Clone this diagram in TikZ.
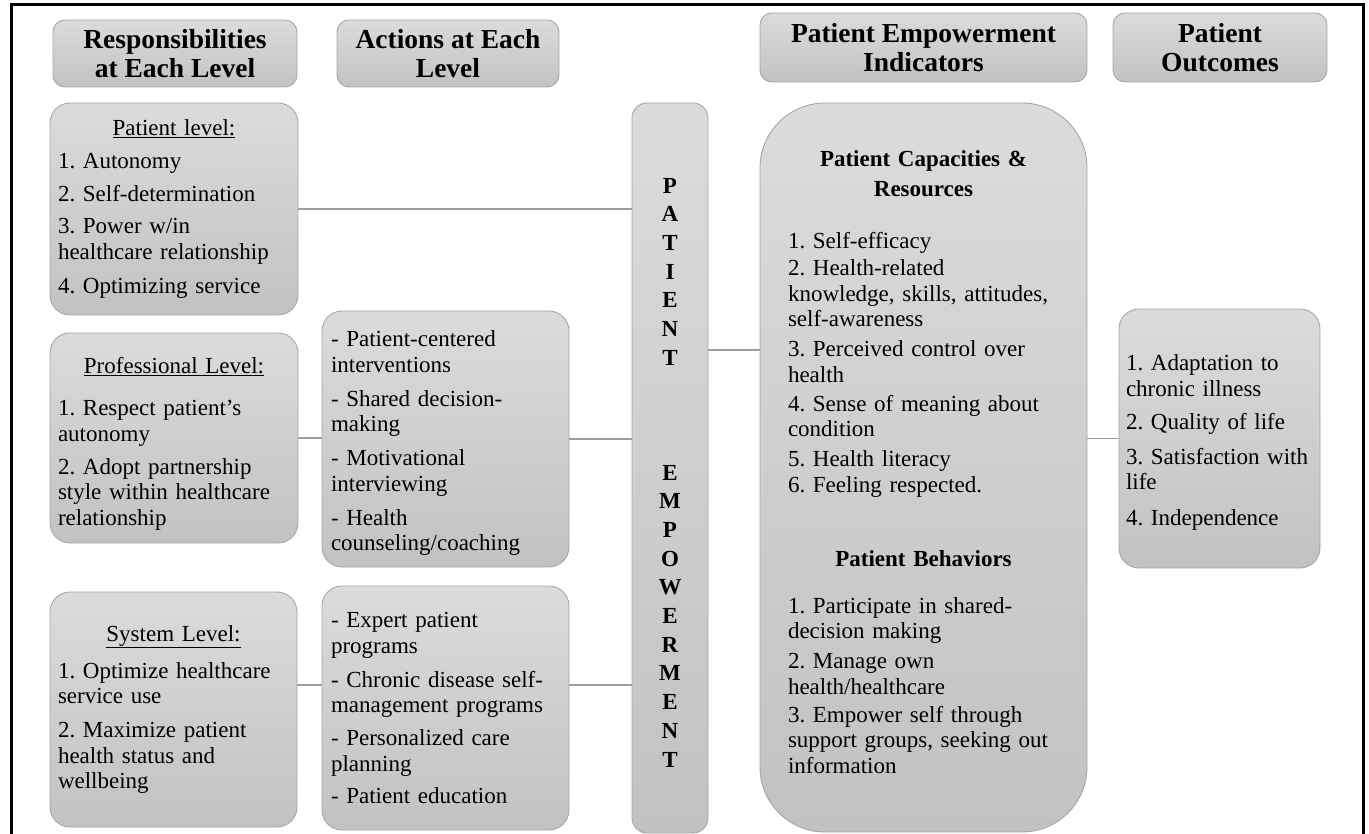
\documentclass[tikz,border=0pt]{standalone}
\usepackage{fontspec}
\setmainfont{Liberation Serif}
\frenchspacing
\newcommand\bodyfont{\fontsize{23}{25.5}\selectfont}
\newcommand\headfont{\fontsize{27.5}{29}\selectfont\bfseries}
\newcommand\colfont{\fontsize{23}{28.7}\selectfont\bfseries}
\begin{document}
\frenchspacing
\begin{tikzpicture}[x=1pt,y=-1pt,
  box/.style={draw=black!35, line width=0.9pt, top color=gray!28, bottom color=gray!48,
              inner ysep=0pt, align=left, font=\bodyfont, text=black},
  headbox/.style={box, rounded corners=12pt, align=center, font=\headfont, inner xsep=0pt},
  conn/.style={draw=black!38, line width=1.3pt}]
\useasboundingbox (0,0) rectangle (1369,834);

% headers
\node[headbox, minimum width=244pt, minimum height=67pt] (h1) at (175,53.5)
  {Responsibilities\\at Each Level};
\node[headbox, minimum width=222pt, minimum height=67pt] (h2) at (448,53.5)
  {Actions at Each\\Level};
\node[headbox, minimum width=327pt, minimum height=69pt] (h3) at (923.5,47.5)
  {Patient Empowerment\\Indicators};
\node[headbox, minimum width=214pt, minimum height=69pt] (h4) at (1220,47.5)
  {Patient\\Outcomes};

% responsibilities
\node[box, rounded corners=20pt, minimum width=248pt, minimum height=212pt,
      text width=232pt, inner xsep=8pt] (pl) at (174,209)
  {\makebox[232pt]{\underline{Patient level:}}\\[7.5pt]
   1. Autonomy\\[7.5pt]
   2. Self-determination\\[6.5pt]
   3. Power w/in\\
   healthcare relationship\\[8.5pt]
   4. Optimizing service};
\node[box, rounded corners=20pt, minimum width=248pt, minimum height=210pt,
      text width=232pt, inner xsep=8pt] (prl) at (174,438)
  {\mbox{}\\[2.5pt]
   \makebox[232pt]{\underline{Professional Level:}}\\[16.5pt]
   1. Respect patient's\\
   autonomy\\[7.5pt]
   2. Adopt partnership\\
   style within healthcare\\
   relationship};
\node[box, rounded corners=20pt, minimum width=247pt, minimum height=235pt,
      text width=231pt, inner xsep=8pt] (sl) at (173.5,709.5)
  {\makebox[231pt]{\underline{System Level:}}\\[11.5pt]
   1. Optimize healthcare\\
   service use\\[8.5pt]
   2. Maximize patient\\
   health status and\\
   wellbeing};

% actions
\node[box, rounded corners=20pt, minimum width=247pt, minimum height=256pt,
      text width=229pt, inner xsep=9pt] (a2) at (445.5,439)
  {\mbox{}\\[-1.5pt]
   - Patient-centered\\
   interventions\\[8.5pt]
   - Shared decision-\\
   making\\[8.5pt]
   - Motivational\\
   interviewing\\[8.5pt]
   - Health\\
   counseling/coaching};
\node[box, rounded corners=20pt, minimum width=247pt, minimum height=244pt,
      text width=229pt, inner xsep=9pt] (a3) at (445.5,708)
  {- Expert patient\\
   programs\\[8.5pt]
   - Chronic disease self-\\
   management programs\\[7.5pt]
   - Personalized care\\
   planning\\[6.5pt]
   - Patient education};

% central column
\node[box, rounded corners=15pt, minimum width=76pt, minimum height=730pt,
      align=center, font=\colfont, inner xsep=0pt] (col) at (670,468)
  {\mbox{}\\[-4.5pt]P\\A\\T\\I\\E\\N\\T\\[86pt]E\\M\\P\\O\\W\\E\\R\\M\\E\\N\\T};

% indicators
\node[box, rounded corners=65pt, minimum width=327pt, minimum height=729pt,
      text width=271pt, inner xsep=28pt] (ind) at (923.5,467.5)
  {\makebox[271pt]{\bfseries Patient Capacities \&}\\[4.5pt]
   \makebox[271pt]{\bfseries Resources}\\[26.5pt]
   1. Self-efficacy\\[1.5pt]
   2. Health-related\\
   knowledge, skills, attitudes,\\
   self-awareness\\[4.5pt]
   3. Perceived control over\\
   health\\[3.5pt]
   4. Sense of meaning about\\
   condition\\[4.5pt]
   5. Health literacy\\
   6. Feeling respected.\\[48.5pt]
   \makebox[271pt]{\bfseries Patient Behaviors}\\[21.5pt]
   1. Participate in shared-\\
   decision making\\[4.5pt]
   2. Manage own\\
   health/healthcare\\[2.5pt]
   3. Empower self through\\
   support groups, seeking out\\
   information\\[-14.5pt]\mbox{}};

% outcomes
\node[box, rounded corners=20pt, minimum width=201pt, minimum height=259pt,
      text width=187pt, inner xsep=7pt] (out) at (1219.5,438.5)
  {\mbox{}\\[-1.5pt]
   1. Adaptation to\\
   chronic illness\\[7.5pt]
   2. Quality of life\\[9.5pt]
   3. Satisfaction with\\
   life\\[10.5pt]
   4. Independence};

% connectors
\coordinate (sy) at (0,685);
\coordinate (cy) at (0,350);
\draw[conn] (pl.east) -- (pl.east -| col.west);
\draw[conn] (prl.east) -- (prl.east -| a2.west);
\draw[conn] (a2.east) -- (a2.east -| col.west);
\draw[conn] (sl.east |- sy) -- (a3.west |- sy);
\draw[conn] (a3.east |- sy) -- (col.west |- sy);
\draw[conn] (col.east |- cy) -- (ind.west |- cy);
\draw[conn] (ind.east |- out.west) -- (out.west);

% frame
\draw[line width=3pt] (11,834) -- (11,5) -- (1363,5) -- (1363,834);
\end{tikzpicture}
\end{document}
